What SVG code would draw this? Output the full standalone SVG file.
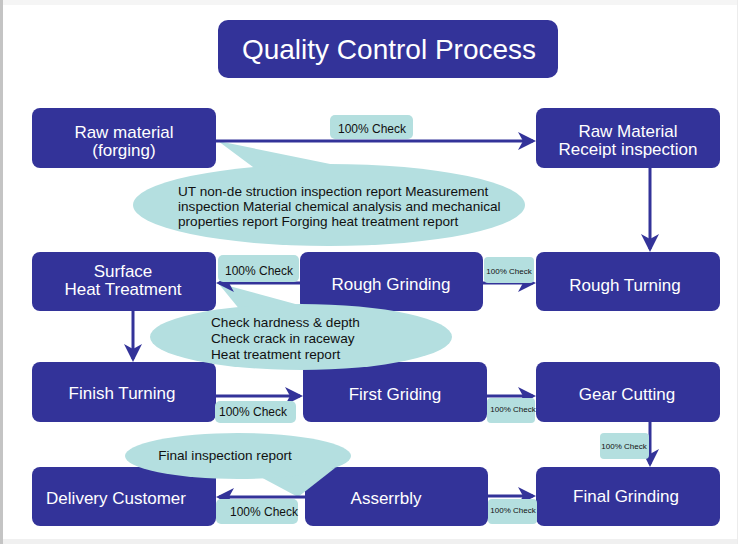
<svg xmlns="http://www.w3.org/2000/svg" width="750" height="544" viewBox="0 0 750 544">
<defs>
<style>
.node rect{fill:#333399}
.nt{font-family:"Liberation Sans",Arial,sans-serif;font-size:17px;fill:#ffffff;text-anchor:middle}
.conn line{stroke:#333399;stroke-width:3;fill:none}
.lbl rect{fill:#b4dfdf}
.lt{font-family:"Liberation Sans",Arial,sans-serif;font-size:12px;fill:#111111;text-anchor:middle}
.ls{font-family:"Liberation Sans",Arial,sans-serif;font-size:8px;fill:#111111;text-anchor:middle}
.call{fill:#b4dfe0}
.ct{font-family:"Liberation Sans",Arial,sans-serif;font-size:13.6px;fill:#111111}
</style>
<marker id="ah" markerUnits="userSpaceOnUse" markerWidth="18" markerHeight="18" refX="15" refY="9" orient="auto" viewBox="0 0 18 18">
<path d="M0,0 L18,9 L0,18 L5,9 Z" fill="#333399"/>
</marker>
</defs>
<rect x="0" y="0" width="750" height="544" fill="#ffffff"/>
<rect x="0" y="0" width="738" height="5" fill="#f5f5f5"/>
<rect x="0" y="539" width="738" height="5" fill="#f0f0f0"/>
<line x1="1.5" y1="0" x2="1.5" y2="544" stroke="#c4c4c4" stroke-width="3"/>
<line x1="737.5" y1="0" x2="737.5" y2="544" stroke="#ececec" stroke-width="1"/>

<g id="title">
<rect x="218" y="20" width="340" height="58" rx="10" fill="#333399"/>
<text x="389" y="59" font-family="'Liberation Sans',Arial,sans-serif" font-size="28" fill="#ffffff" text-anchor="middle">Quality Control Process</text>
</g>

<g id="n-raw" class="node"><rect x="32" y="108" width="184" height="60" rx="8"/><text class="nt" x="124" y="138">Raw material</text><text class="nt" x="124" y="156">(forging)</text></g>
<g id="n-receipt" class="node"><rect x="536" y="108" width="184" height="60" rx="8"/><text class="nt" x="628" y="137">Raw Material</text><text class="nt" x="628" y="155">Receipt inspection</text></g>
<g id="n-surface" class="node"><rect x="32" y="252" width="184" height="59" rx="8"/><text class="nt" x="123" y="277">Surface</text><text class="nt" x="123" y="295">Heat Treatment</text></g>
<g id="n-roughgrind" class="node"><rect x="300" y="252" width="183" height="59" rx="8"/><text class="nt" x="391" y="290">Rough Grinding</text></g>
<g id="n-roughturn" class="node"><rect x="536" y="252" width="184" height="59" rx="8"/><text class="nt" x="625" y="291">Rough Turning</text></g>
<g id="n-finish" class="node"><rect x="32" y="362" width="184" height="60" rx="8"/><text class="nt" x="122" y="399">Finish Turning</text></g>
<g id="n-first" class="node"><rect x="303" y="362" width="184" height="60" rx="8"/><text class="nt" x="395" y="400">First Griding</text></g>
<g id="n-gear" class="node"><rect x="536" y="362" width="184" height="60" rx="8"/><text class="nt" x="627" y="400">Gear Cutting</text></g>
<g id="n-delivery" class="node"><rect x="32" y="467" width="184" height="59" rx="8"/><text class="nt" x="116" y="504">Delivery Customer</text></g>
<g id="n-assembly" class="node"><rect x="305" y="467" width="183" height="59" rx="8"/><text class="nt" x="386" y="504">Asserrbly</text></g>
<g id="n-finalgrind" class="node"><rect x="536" y="467" width="184" height="59" rx="8"/><text class="nt" x="626" y="502">Final Grinding</text></g>

<g id="callouts">
<g id="c-raw">
<polygon class="call" points="218,141 340,166 265,176"/>
<ellipse class="call" cx="329" cy="205" rx="196" ry="41"/>
<text class="ct" x="178" y="196">UT non-de struction inspection report Measurement</text>
<text class="ct" x="178" y="211">inspection Material chemical analysis and mechanical</text>
<text class="ct" x="178" y="226">properties report Forging heat treatment report</text>
</g>
<g id="c-heat">
<polygon class="call" points="218,283 310,308 245,316"/>
<ellipse class="call" cx="301" cy="337" rx="151" ry="33"/>
<text class="ct" x="211" y="327">Check hardness &amp; depth</text>
<text class="ct" x="211" y="343">Check crack in raceway</text>
<text class="ct" x="211" y="359">Heat treatment report</text>
</g>
<g id="c-final">
<polygon class="call" points="255,474 298,497 335,468"/>
<ellipse class="call" cx="238" cy="456" rx="113" ry="23"/>
<text class="ct" x="225" y="460" font-size="12" text-anchor="middle">Final inspection report</text>
</g>
</g>

<g id="connectors" class="conn">
<line x1="216" y1="141" x2="533" y2="141" marker-end="url(#ah)"/>
<line x1="650" y1="168" x2="650" y2="249" marker-end="url(#ah)"/>
<line x1="483" y1="283" x2="533" y2="283" marker-end="url(#ah)"/>
<line x1="300" y1="283" x2="219" y2="283" marker-end="url(#ah)"/>
<line x1="133" y1="311" x2="133" y2="359" marker-end="url(#ah)"/>
<line x1="216" y1="396" x2="300" y2="396" marker-end="url(#ah)"/>
<line x1="487" y1="396" x2="533" y2="396" marker-end="url(#ah)"/>
<line x1="650" y1="422" x2="650" y2="464" marker-end="url(#ah)"/>
<line x1="488" y1="496" x2="533" y2="496" marker-end="url(#ah)"/>
<line x1="305" y1="497" x2="219" y2="497" marker-end="url(#ah)"/>
</g>

<g id="labels">
<g class="lbl"><rect x="330" y="115" width="83" height="24" rx="5"/><text class="lt" x="372" y="133">100% Check</text></g>
<g class="lbl"><rect x="218" y="255" width="81" height="27" rx="5"/><text class="lt" x="259" y="275">100% Check</text></g>
<g class="lbl"><rect x="484" y="257" width="50" height="26" rx="4"/><text class="ls" x="509" y="274">100% Check</text></g>
<g class="lbl"><rect x="215" y="401" width="81" height="22" rx="5"/><text class="lt" x="253" y="416">100% Check</text></g>
<g class="lbl"><rect x="487" y="398" width="48" height="25" rx="4"/><text class="ls" x="513" y="412">100% Check</text></g>
<g class="lbl"><rect x="600" y="433" width="49" height="26" rx="4"/><text class="ls" x="624" y="449">100% Check</text></g>
<g class="lbl"><rect x="488" y="499" width="49" height="25" rx="4"/><text class="ls" x="513" y="513">100% Check</text></g>
<g class="lbl"><rect x="216" y="499" width="82" height="25" rx="5"/><text class="lt" x="264" y="516">100% Check</text></g>
</g>
</svg>
